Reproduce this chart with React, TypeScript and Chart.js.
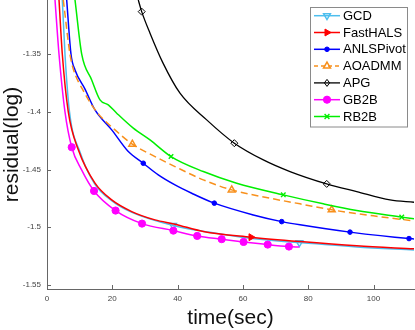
import React, { useEffect, useRef } from 'react';
import { Chart, registerables } from 'chart.js';

Chart.register(...registerables);

// ---------- data ----------
const seriesNames = ['GCD', 'FastHALS', 'ANLSPivot', 'AOADMM', 'APG', 'GB2B', 'RB2B'];

const gcdX = [4.69, 5.51, 6.89, 10.1, 14.7, 19.9, 26.0, 38.6, 49.9, 62.2, 77.3, 94.9, 112.4];
const gcdY = [-1.303, -1.35, -1.40, -1.4347, -1.4628, -1.4771, -1.4871, -1.4984, -1.5044, -1.5096, -1.5133, -1.5170, -1.5196];
const gcdMarks = [7, 10];

const fastX = [3.68, 4.69, 6.52, 9.59, 14.7, 19.82, 25.94, 33.08, 39.2, 47.87, 62.48, 77.49, 94.86, 112.4];
const fastY = [-1.303, -1.35, -1.40, -1.4329, -1.4618, -1.4763, -1.4864, -1.4936, -1.4973, -1.5037, -1.5086, -1.5124, -1.5161, -1.5187];
const fastMarks = [10];

const anlsX = [6.03, 7.35, 8.58, 11.64, 14.7, 19.82, 24.9, 29.49, 34.08, 39.2, 44.32, 51.24, 63.18, 71.88, 77.49, 92.8, 110.87, 112.4];
const anlsY = [-1.303, -1.35, -1.3636, -1.3802, -1.3983, -1.4156, -1.4344, -1.4445, -1.4546, -1.4633, -1.4705, -1.4791, -1.4893, -1.4951, -1.4979, -1.5042, -1.5098, -1.5101];
const anlsMarks = [7, 11, 13, 15, 16];

const aoX = [4.99, 7.04, 7.96, 11.33, 15.22, 20.83, 26.13, 33.08, 39.2, 47.87, 56.57, 68.3, 77.49, 87.2, 99.94, 112.4];
const aoY = [-1.303, -1.35, -1.3619, -1.3827, -1.40, -1.4156, -1.428, -1.4387, -1.4474, -1.4589, -1.4676, -1.4748, -1.4797, -1.4849, -1.4901, -1.4945];
const aoMarks = [6, 10, 13];

const apgX = [27.96, 29.0, 31.55, 35.5, 40.73, 48.91, 57.37, 66.25, 74.43, 85.67, 94.86, 105.05, 112.4];
const apgY = [-1.303, -1.3131, -1.3318, -1.3575, -1.3838, -1.4069, -1.4271, -1.4416, -1.4517, -1.4624, -1.4691, -1.4763, -1.4783];
const apgMarks = [1, 6, 9];

const gbX = [2.45, 3.68, 5.51, 7.57, 10.6, 14.4, 21.0, 29.1, 38.7, 46.0, 53.5, 60.2, 67.6, 74.1, 77.3];
const gbY = [-1.303, -1.35, -1.40, -1.4306, -1.4503, -1.4685, -1.4855, -1.4968, -1.5029, -1.5075, -1.5103, -1.5127, -1.515, -1.5167, -1.5172];
const gbMarks = [3, 5, 6, 7, 8, 9, 10, 11, 12, 13];

const rbX = [8.58, 10.63, 13.69, 16.23, 18.77, 21.35, 26.43, 31.55, 37.98, 47.87, 58.1, 72.37, 84.62, 94.86, 108.64, 112.4];
const rbY = [-1.303, -1.35, -1.3723, -1.3896, -1.3939, -1.4011, -1.4141, -1.4243, -1.4387, -1.4517, -1.4618, -1.4719, -1.4797, -1.4855, -1.4912, -1.4927];
const rbMarks = [8, 11, 14];

const xTickValues = [0, 20, 40, 60, 80, 100];
const yTickValues = [-1.55, -1.5, -1.45, -1.4, -1.35];
const xRange = [0, 112.4];
const yRange = [-1.5535, -1.303];

// ---------- styles ----------
const FONT = "'Liberation Sans', Arial, Helvetica, sans-serif";

type Style = {
  color: string; marker: string; rot: number; r: number; fill: string; lw: number; dash: number[]; mlw: number;
};
const styles: Style[] = [
  { color: '#4DBEEE', marker: 'triangle', rot: 180, r: 4, fill: 'rgba(0,0,0,0)', lw: 1.5, dash: [], mlw: 1.4 },
  { color: '#FF0000', marker: 'triangle', rot: 90, r: 4, fill: '#FF0000', lw: 1.5, dash: [], mlw: 1 },
  { color: '#0000FF', marker: 'circle', rot: 0, r: 2.3, fill: '#0000FF', lw: 1.5, dash: [], mlw: 1 },
  { color: '#F8901C', marker: 'triangle', rot: 0, r: 4, fill: 'rgba(0,0,0,0)', lw: 1.5, dash: [7, 4], mlw: 1.5 },
  { color: '#000000', marker: 'rectRot', rot: 0, r: 3.5, fill: 'rgba(0,0,0,0)', lw: 1.3, dash: [], mlw: 1 },
  { color: '#FF00FF', marker: 'circle', rot: 0, r: 3.6, fill: '#FF00FF', lw: 1.5, dash: [], mlw: 1 },
  { color: '#00EE00', marker: 'crossRot', rot: 0, r: 3.2, fill: 'rgba(0,0,0,0)', lw: 1.5, dash: [], mlw: 1.4 },
];

const seriesX = [gcdX, fastX, anlsX, aoX, apgX, gbX, rbX];
const seriesY = [gcdY, fastY, anlsY, aoY, apgY, gbY, rbY];
const seriesMarks = [gcdMarks, fastMarks, anlsMarks, aoMarks, apgMarks, gbMarks, rbMarks];

function drawMarker(ctx: CanvasRenderingContext2D, s: Style, x: number, y: number) {
  const r = s.r;
  ctx.save();
  ctx.translate(x, y);
  ctx.rotate((s.rot * Math.PI) / 180);
  ctx.setLineDash([]);
  ctx.beginPath();
  if (s.marker === 'circle') {
    ctx.arc(0, 0, r, 0, Math.PI * 2);
  } else if (s.marker === 'triangle') {
    ctx.moveTo(0, -r);
    ctx.lineTo(r * 0.866, r * 0.5);
    ctx.lineTo(-r * 0.866, r * 0.5);
    ctx.closePath();
  } else if (s.marker === 'rectRot') {
    ctx.moveTo(0, -r);
    ctx.lineTo(r * 0.75, 0);
    ctx.lineTo(0, r);
    ctx.lineTo(-r * 0.75, 0);
    ctx.closePath();
  } else if (s.marker === 'crossRot') {
    const d = r * 0.75;
    ctx.moveTo(-d, -d);
    ctx.lineTo(d, d);
    ctx.moveTo(d, -d);
    ctx.lineTo(-d, d);
  }
  if (s.marker !== 'crossRot') {
    ctx.fillStyle = s.fill;
    ctx.fill();
  }
  ctx.strokeStyle = s.color;
  ctx.lineWidth = s.mlw;
  ctx.stroke();
  ctx.restore();
}

const legendPlugin = {
  id: 'matlabLegend',
  afterDraw(chart: any) {
    const ctx: CanvasRenderingContext2D = chart.ctx;
    const area = chart.chartArea;
    const bx = area.right - 104;
    const by = area.top + 6.5;
    const bw = 97;
    const bh = 119.5;
    ctx.save();
    ctx.fillStyle = '#ffffff';
    ctx.fillRect(bx, by, bw, bh);
    ctx.strokeStyle = '#8a8a8a';
    ctx.lineWidth = 1;
    ctx.strokeRect(Math.round(bx) + 0.5, Math.round(by) + 0.5, bw, bh);
    seriesNames.forEach((name, i) => {
      const s = styles[i];
      const y = by + 9.2 + i * 16.8;
      ctx.save();
      ctx.strokeStyle = s.color;
      ctx.lineWidth = s.lw;
      ctx.setLineDash(s.dash.length ? [4, 3] : []);
      ctx.beginPath();
      ctx.moveTo(bx + 4, y);
      ctx.lineTo(bx + 30, y);
      ctx.stroke();
      ctx.restore();
      drawMarker(ctx, s, bx + 17, y);
      ctx.fillStyle = '#000';
      ctx.font = `13px ${FONT}`;
      ctx.textBaseline = 'middle';
      ctx.textAlign = 'left';
      ctx.fillText(name, bx + 33, y + 0.5);
    });
    ctx.restore();
  },
};

const inwardTicksPlugin = {
  id: 'inwardTicks',
  afterDatasetsDraw(chart: any) {
    const ctx: CanvasRenderingContext2D = chart.ctx;
    const area = chart.chartArea;
    const xs = chart.scales.x;
    const ys = chart.scales.y;
    ctx.save();
    ctx.strokeStyle = '#666';
    ctx.lineWidth = 1;
    ctx.beginPath();
    yTickValues.forEach((v) => {
      const py = Math.round(ys.getPixelForValue(v)) + 0.5;
      ctx.moveTo(area.left, py);
      ctx.lineTo(area.left + 4, py);
    });
    xTickValues.forEach((v) => {
      const px = Math.round(xs.getPixelForValue(v)) + 0.5;
      ctx.moveTo(px, area.bottom);
      ctx.lineTo(px, area.bottom - 4);
    });
    ctx.stroke();
    ctx.restore();
  },
};

export default function App() {
  const ref = useRef<HTMLCanvasElement | null>(null);

  useEffect(() => {
    if (!ref.current) return;
    const datasets = seriesNames.map((name, i) => {
      const s = styles[i];
      const marks = seriesMarks[i];
      return {
        label: name,
        data: seriesX[i].map((x, j) => ({ x, y: seriesY[i][j] })),
        showLine: true,
        borderColor: s.color,
        backgroundColor: s.color,
        borderWidth: s.lw,
        borderDash: s.dash,
        cubicInterpolationMode: 'monotone' as const,
        pointStyle: s.marker,
        rotation: s.rot,
        pointRadius: (c: any) => (marks.includes(c.dataIndex) ? s.r : 0),
        pointBorderColor: s.color,
        pointBackgroundColor: s.fill,
        pointBorderWidth: s.mlw,
        order: seriesNames.length - i,
      };
    });

    const chart = new Chart(ref.current, {
      type: 'scatter',
      data: { datasets },
      plugins: [inwardTicksPlugin, legendPlugin],
      options: {
        animation: false,
        responsive: false,
        maintainAspectRatio: false,
        events: [],
        layout: { padding: { left: 0, right: 1, top: 0, bottom: 0 } },
        plugins: { legend: { display: false }, tooltip: { enabled: false } },
        scales: {
          x: {
            type: 'linear',
            min: xRange[0],
            max: xRange[1],
            grid: { display: false, drawTicks: false },
            border: { display: true, color: '#666', width: 1 },
            afterBuildTicks: (sc: any) => {
              sc.ticks = xTickValues.map((v) => ({ value: v }));
            },
            afterFit: (sc: any) => {
              sc.height = 41;
              sc.paddingLeft = 0;
              sc.paddingRight = 0;
              sc.paddingTop = 0;
              sc.paddingBottom = 0;
            },
            ticks: {
              font: { family: FONT, size: 8 },
              color: '#444',
              padding: 5,
              maxRotation: 0,
              callback: (v: any) => String(v),
            },
            title: {
              display: true,
              text: 'time(sec)',
              font: { family: FONT, size: 21, lineHeight: 1 },
              color: '#111',
              padding: { top: 0, bottom: 1.5 },
            },
          },
          y: {
            type: 'linear',
            min: yRange[0],
            max: yRange[1],
            grid: { display: false, drawTicks: false },
            border: { display: true, color: '#666', width: 1 },
            afterBuildTicks: (sc: any) => {
              sc.ticks = yTickValues.map((v) => ({ value: v }));
            },
            afterFit: (sc: any) => {
              sc.width = 47;
              sc.paddingLeft = 0;
              sc.paddingRight = 0;
              sc.paddingTop = 0;
              sc.paddingBottom = 0;
            },
            ticks: {
              font: { family: FONT, size: 8 },
              color: '#444',
              padding: 6,
              callback: (v: any) => String(Number(Number(v).toFixed(2))),
            },
            title: {
              display: true,
              text: 'residual(log)',
              font: { family: FONT, size: 21, lineHeight: 1 },
              color: '#111',
              padding: { top: 1.5, bottom: 0 },
            },
          },
        },
      } as any,
    });
    return () => chart.destroy();
  }, []);

  return (
    <div style={{ position: 'absolute', left: 0, top: 0, width: 415, height: 330, background: '#fff' }}>
      <canvas ref={ref} width={415} height={330} style={{ display: 'block', width: 415, height: 330 }} />
    </div>
  );
}
